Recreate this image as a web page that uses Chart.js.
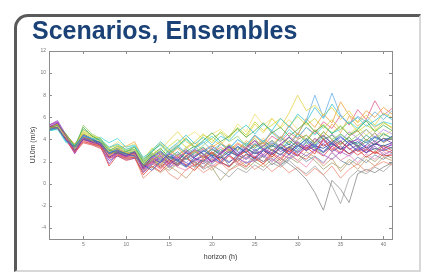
<!DOCTYPE html>
<html>
<head>
<meta charset="utf-8">
<script src="https://cdn.jsdelivr.net/npm/chart.js@4/dist/chart.umd.min.js"></script>
<style>
  body { margin: 0; background: #fff; }
  #wrap { position: relative; width: 423px; height: 274px; overflow: hidden; }
  #frame {
    position: absolute; left: 14px; top: 14px; width: 402px; height: 253px;
    border-left: 3px solid #5a5a5a; border-top: 3px solid #5a5a5a;
    border-right: 2px solid #d8d8d8; border-bottom: 2px solid #d8d8d8;
    border-top-left-radius: 14px;
  }
  #title {
    position: absolute; left: 32px; top: 16px;
    font: bold 25px "Liberation Sans", Arial, sans-serif; color: #1b4277;
  }
  canvas { position: absolute; left: 0; top: 0; }
</style>
</head>
<body>
<div id="wrap">
  <canvas id="ens" width="423" height="274"></canvas>
  <div id="frame"></div>
  <div id="title">Scenarios, Ensembles</div>
</div>
<script>
// forecast horizon (hours) and ensemble members (U10m, m/s)
var hours = [];
for (var h = 1; h <= 41; h++) hours.push(h);

var xTicks = [5, 10, 15, 20, 25, 30, 35, 40];
var yTicks = [-4, -2, 0, 2, 4, 6, 8, 10, 12];

var members = [
  [5.1,5.5,4.3,3.0,4.0,3.8,3.5,2.4,2.8,2.5,2.9,1.4,2.4,2.9,2.2,1.6,2.5,3.1,2.7,2.0,2.8,3.4,2.6,3.3,3.9,3.1,2.7,3.6,4.2,3.5,3.0,3.8,4.4,3.6,3.1,3.9,3.4,2.8,3.6,4.1,3.7],
  [4.9,5.1,3.9,3.3,4.4,4.0,3.7,2.8,3.0,2.7,2.5,1.7,1.2,2.0,2.7,2.1,1.5,2.4,3.0,2.5,1.9,2.7,3.3,2.8,2.2,3.0,3.7,3.2,2.6,3.4,4.0,3.3,2.9,3.7,4.3,3.6,3.0,3.5,4.2,3.8,4.3],
  [5.0,5.3,4.5,3.4,5.1,4.3,3.9,3.1,2.7,2.9,3.3,2.0,2.9,3.6,2.8,3.4,4.1,3.3,3.9,4.6,3.8,4.3,5.0,4.2,4.8,5.5,4.6,5.1,4.3,4.9,5.6,4.7,5.3,4.5,5.2,4.4,4.9,5.7,4.7,5.3,4.8],
  [5.2,5.0,4.0,2.9,3.8,3.6,3.4,1.6,2.6,2.3,2.4,0.8,1.6,1.1,1.9,2.5,1.7,1.2,2.1,2.8,2.0,1.5,2.4,3.0,2.3,1.8,2.7,2.1,3.1,2.5,3.3,2.7,4.1,3.0,3.8,3.2,2.6,3.1,2.8,3.4,3.0],
  [4.8,5.0,3.8,3.5,4.3,4.1,4.0,3.3,3.6,3.1,3.4,2.2,3.0,3.8,3.1,3.7,4.4,3.6,4.2,3.5,4.3,3.9,4.7,5.3,4.5,5.4,4.8,5.9,5.1,6.3,5.6,6.9,5.9,7.2,6.1,5.4,6.0,5.2,5.7,6.3,5.8],
  [5.0,5.2,4.2,3.2,4.6,4.2,3.8,2.9,3.3,2.8,3.0,1.8,2.6,3.1,3.9,4.7,3.8,3.3,4.4,4.0,3.5,4.3,4.9,4.2,5.4,4.6,5.9,5.1,6.4,8.0,6.6,7.1,6.2,6.9,5.8,6.6,5.5,6.2,5.3,6.4,6.0],
  [5.1,5.4,4.4,3.6,4.5,3.9,3.3,2.5,3.1,2.8,2.6,1.6,2.3,1.7,2.6,3.2,2.5,3.0,2.4,3.3,3.8,3.0,3.7,3.2,4.3,3.6,4.7,4.0,5.3,4.4,5.9,5.1,6.3,5.5,7.4,6.2,5.6,6.6,6.0,6.9,6.3],
  [5.3,5.6,4.1,2.7,4.1,3.7,3.6,2.3,2.7,2.4,2.8,1.3,2.0,2.6,1.7,2.3,2.9,2.2,2.6,1.9,2.7,3.3,2.5,3.1,2.4,3.2,2.8,3.6,2.9,2.5,3.5,3.0,3.9,3.2,2.7,3.7,4.0,3.3,3.9,3.1,3.6],
  [4.9,5.2,4.0,3.2,4.1,3.8,3.5,2.7,2.9,2.6,2.5,1.5,2.2,1.6,2.4,1.8,2.6,2.0,1.5,2.3,2.7,1.6,2.2,2.6,2.0,2.5,1.7,2.3,1.8,1.2,0.4,-0.8,-2.4,0.3,-0.5,-1.7,0.9,1.3,1.0,1.5,1.9],
  [5.0,5.1,4.2,3.0,5.3,4.5,4.1,2.9,3.4,3.0,3.1,1.9,2.8,2.2,3.1,2.5,3.3,2.7,3.5,4.1,4.6,3.8,4.3,3.4,4.1,3.2,3.9,3.3,4.2,3.5,4.4,3.6,4.7,4.0,4.5,3.8,4.4,4.9,4.1,4.6,4.1],
  [5.2,5.3,3.9,3.1,3.9,3.7,3.4,2.6,2.7,2.4,2.6,1.4,1.9,1.3,2.0,1.5,1.2,1.9,2.3,1.6,2.1,2.5,1.7,2.4,2.0,2.8,2.2,1.8,2.6,2.1,1.5,2.4,1.8,2.9,2.1,2.6,1.9,2.7,2.2,2.9,2.5],
  [4.8,5.0,4.1,3.4,4.0,3.9,3.8,3.0,3.2,2.8,2.9,1.7,2.5,3.0,2.3,2.9,2.2,2.8,3.3,2.5,3.1,2.6,3.4,2.8,3.6,3.0,3.5,3.1,3.9,3.3,4.1,3.5,4.3,3.7,4.5,3.9,3.6,4.4,3.8,4.5,4.1],
  [5.0,5.4,4.3,3.3,4.2,4.0,3.7,2.6,3.0,2.7,2.8,1.6,2.1,2.7,2.0,1.7,2.5,2.9,2.3,2.8,2.4,3.1,2.6,2.9,3.4,3.7,3.0,3.6,3.1,4.0,4.4,3.7,4.7,4.0,3.5,4.3,4.8,3.9,4.6,3.7,4.2],
  [5.1,5.5,4.0,2.8,4.3,3.8,3.5,1.8,2.8,2.5,2.7,1.3,1.8,2.3,1.5,2.0,1.7,2.2,1.8,2.4,1.9,1.6,2.3,1.9,2.1,2.6,2.0,2.7,2.3,3.0,2.5,3.1,2.6,2.2,2.9,2.5,3.2,2.8,3.4,2.6,3.0],
  [4.9,5.2,4.2,3.3,4.4,4.1,3.6,2.8,3.1,2.6,3.0,1.8,2.7,2.2,2.9,3.5,2.7,3.2,3.8,3.0,3.6,3.2,4.0,3.4,4.4,3.7,4.8,4.1,5.2,4.5,5.7,8.0,6.0,8.2,6.2,5.4,6.1,5.6,6.5,5.8,6.6],
  [5.0,5.3,4.1,3.1,4.1,3.9,3.6,2.7,2.9,2.6,2.7,1.5,2.3,1.9,2.5,2.1,2.8,2.3,2.0,2.6,2.3,2.9,2.5,3.2,2.7,3.0,2.6,3.3,2.9,3.5,3.0,3.4,3.2,3.7,3.1,3.5,3.8,3.2,3.6,3.4,3.7],
  [5.0,5.2,4.4,3.5,4.7,4.3,4.1,3.2,3.5,3.1,3.3,2.1,3.2,2.6,3.4,4.0,3.3,3.8,4.5,3.7,4.7,4.1,5.1,4.4,5.6,4.8,5.3,5.9,5.2,6.1,5.3,5.9,5.0,5.8,4.9,5.6,4.7,5.3,4.8,5.5,5.1],
  [5.1,5.0,3.9,2.9,3.9,3.6,3.3,2.3,2.6,2.2,2.4,0.5,1.2,1.9,0.9,0.4,1.3,1.7,1.0,1.5,1.9,1.2,1.6,2.0,1.3,1.8,1.1,1.7,1.0,1.5,0.7,1.4,0.8,1.6,0.5,1.3,1.8,1.1,1.6,2.0,1.7],
  [5.0,5.1,4.0,3.0,4.0,3.7,3.4,2.5,2.7,2.3,2.5,1.2,1.7,2.2,1.4,1.9,1.5,2.0,1.3,1.7,1.2,0.6,1.4,1.0,1.7,1.2,1.9,1.5,2.1,1.4,0.9,1.6,0.8,-0.2,-1.8,0.5,1.2,0.9,1.5,1.1,1.8],
  [5.2,5.6,4.2,3.1,4.2,3.9,3.6,2.6,2.9,2.5,2.8,1.5,2.4,1.9,2.8,2.3,1.9,2.6,3.1,2.4,2.9,2.5,3.4,2.8,3.7,3.1,3.9,3.4,4.3,3.7,3.3,4.1,3.6,4.5,3.8,4.7,4.1,4.9,4.2,4.9,4.5],
  [4.8,4.9,3.7,3.6,4.2,3.8,4.2,3.7,4.1,3.3,3.5,2.4,2.9,3.5,2.7,3.3,4.0,3.2,3.7,4.3,3.6,3.1,4.0,3.5,4.4,3.8,4.6,3.9,4.9,4.2,5.1,4.4,5.2,4.6,4.9,5.6,5.0,5.8,5.2,5.6,5.4],
  [5.0,5.2,4.1,3.2,4.3,3.9,3.5,2.9,3.2,3.4,3.8,2.2,2.8,2.3,3.0,2.5,3.2,3.7,3.0,3.5,2.9,3.6,3.1,3.9,3.4,4.1,3.5,4.3,3.7,4.6,4.0,4.9,4.2,5.4,4.6,6.1,5.2,5.8,5.1,5.6,5.0],
  [5.1,5.3,4.0,3.0,4.0,3.7,3.4,2.4,2.8,2.4,2.6,1.4,2.0,1.5,2.2,1.8,2.5,1.6,2.3,2.9,2.1,2.6,2.0,2.7,2.3,3.0,2.4,3.3,2.7,3.7,3.1,4.1,3.4,3.9,3.2,2.7,3.1,2.4,2.9,2.5,2.6],
  [4.9,5.1,4.2,3.3,4.5,4.1,3.7,2.8,3.1,2.7,2.8,1.6,2.6,3.2,2.4,2.0,2.9,3.4,2.6,3.1,2.7,3.5,3.0,3.7,3.2,3.9,3.3,4.2,3.5,4.5,3.8,4.8,4.0,4.4,3.6,4.2,3.4,4.0,3.5,4.1,4.0],
  [5.0,5.2,4.3,3.4,4.8,4.4,4.0,3.2,3.8,3.3,3.6,2.3,3.1,3.7,3.0,3.6,4.2,4.7,4.0,4.5,4.9,4.2,5.4,4.7,6.3,5.3,5.9,5.0,5.8,4.9,5.5,4.7,5.4,4.6,5.3,4.5,5.1,4.4,5.0,4.3,4.8],
  [5.1,5.4,4.1,3.0,4.1,3.8,3.5,2.6,2.8,2.5,2.7,1.4,1.9,2.4,1.8,2.2,1.6,2.1,2.5,2.0,2.4,1.9,2.6,2.2,2.9,2.4,3.1,2.6,3.3,2.8,3.5,3.0,3.6,2.9,3.4,2.7,3.3,2.8,3.2,3.0,3.3],
  [5.0,5.2,4.0,3.1,4.0,3.8,3.5,2.6,2.8,2.4,2.6,1.3,1.5,1.0,1.6,1.1,0.5,1.4,1.9,1.2,2.0,1.5,2.2,1.6,2.3,1.8,2.5,1.9,2.7,2.1,2.9,2.4,1.6,2.3,1.1,2.0,1.3,2.2,1.6,2.4,2.1],
  [5.2,5.3,4.2,3.2,4.2,3.9,3.6,2.7,3.0,2.6,2.8,1.6,2.5,2.0,2.8,2.3,3.0,2.5,3.2,2.7,3.3,2.8,3.6,3.1,3.9,3.4,4.3,3.8,4.6,4.1,5.1,4.5,5.6,5.0,6.2,5.3,6.7,5.8,7.5,6.2,6.8],
  [4.9,5.0,3.9,3.2,4.0,3.8,3.6,2.7,3.0,2.7,2.6,1.7,1.4,2.1,1.6,2.4,1.9,1.5,2.2,1.8,2.5,2.0,2.4,1.8,2.5,2.0,2.3,1.7,2.2,2.7,2.0,2.5,1.9,2.8,2.1,1.7,2.4,1.9,2.6,2.2,2.8],
  [5.0,5.3,4.1,3.1,4.1,3.8,3.5,2.5,2.8,2.5,2.6,1.4,2.1,1.7,1.2,1.8,2.3,1.7,2.1,1.5,0.3,1.2,1.8,1.3,2.0,1.5,2.2,1.7,2.4,1.9,2.6,2.1,1.3,1.9,1.4,2.2,1.7,2.5,2.0,2.7,2.3],
  [5.3,5.7,4.4,2.9,4.0,3.6,3.3,2.1,2.5,2.2,2.3,1.0,1.7,2.5,1.9,2.7,2.2,3.0,2.4,3.2,2.6,3.4,2.9,2.3,3.1,2.6,3.5,2.9,3.3,3.8,3.2,3.6,2.8,3.4,3.9,3.1,3.5,3.0,3.7,3.2,3.5],
  [5.0,5.4,4.0,3.1,4.3,3.9,3.7,2.9,3.1,2.6,2.9,1.6,2.3,2.8,2.2,2.6,3.1,2.5,2.9,3.4,2.8,3.3,2.7,3.5,3.0,3.4,3.9,3.2,3.6,3.1,3.8,3.4,4.0,3.5,4.2,3.6,4.1,3.7,4.3,3.9,4.2],
  [4.9,5.0,4.1,3.4,4.9,4.4,3.8,3.0,3.4,2.9,3.1,1.9,2.7,2.1,2.6,3.3,2.8,2.4,3.0,2.6,3.6,3.0,2.5,3.2,2.8,3.5,3.0,2.6,3.4,2.9,3.7,3.2,2.8,3.6,3.1,3.9,3.3,3.8,3.0,3.5,3.2],
  [5.1,5.2,3.9,2.8,3.7,3.5,3.2,2.3,2.5,2.1,2.3,1.1,1.8,1.4,2.1,1.6,2.3,1.9,1.4,2.2,1.8,2.5,1.9,1.5,2.4,2.0,2.8,2.3,3.2,2.6,2.2,3.0,2.5,3.4,2.8,3.6,2.9,3.3,2.7,3.1,2.8]
];

var lineColors = [
  '#7b3fa0','#3a5fcd','#4caf50','#e0483e','#3fc4d8','#e6d34a','#f0a040','#c040b0','#8a8a8a','#9ed36a',
  '#f08cb8','#2a9d8f','#a08a40','#9a5cd0','#6ab0e8','#2c3e9e','#c8d83a','#f0907a','#a0a0a0','#b48ce0',
  '#48d8e0','#f5b04c','#d03030','#3c9a50','#f0e070','#5040a0','#c8a070','#e06090','#7090b0','#a0a070',
  '#8040c0','#4070e0','#60b060','#e05050'
];

var datasets = [];
for (var i = 0; i < members.length; i++) {
  datasets.push({
    data: members[i].map(function (v, j) { return { x: hours[j], y: v }; }),
    borderColor: lineColors[i % lineColors.length] + 'cc',
    borderWidth: 1,
    pointRadius: 0,
    tension: 0
  });
}

// matlab style box with inward ticks
var boxPlugin = {
  id: 'box',
  afterDraw: function (chart) {
    var ctx = chart.ctx, a = chart.chartArea;
    var xs = chart.scales.x, ys = chart.scales.y;
    ctx.save();
    ctx.strokeStyle = '#8c8c8c';
    ctx.lineWidth = 1;
    ctx.strokeRect(a.left + 0.5, a.top + 0.5, a.right - a.left, a.bottom - a.top);
    ctx.beginPath();
    xTicks.forEach(function (t) {
      var px = Math.round(xs.getPixelForValue(t)) + 0.5;
      ctx.moveTo(px, a.bottom); ctx.lineTo(px, a.bottom - 3);
      ctx.moveTo(px, a.top); ctx.lineTo(px, a.top + 3);
    });
    yTicks.forEach(function (t) {
      var py = Math.round(ys.getPixelForValue(t)) + 0.5;
      ctx.moveTo(a.left, py); ctx.lineTo(a.left + 3, py);
      ctx.moveTo(a.right, py); ctx.lineTo(a.right - 3, py);
    });
    ctx.stroke();
    ctx.restore();
  }
};

new Chart(document.getElementById('ens'), {
  type: 'line',
  data: { datasets: datasets },
  plugins: [boxPlugin],
  options: {
    responsive: false,
    animation: false,
    events: [],
    layout: { padding: { left: 29, top: 51, right: 31, bottom: 13 } },
    plugins: { legend: { display: false }, tooltip: { enabled: false } },
    scales: {
      x: {
        type: 'linear', min: 1, max: 41,
        afterBuildTicks: function (s) { s.ticks = xTicks.map(function (v) { return { value: v }; }); },
        afterFit: function (s) { s.height = 22; },
        grid: { display: false, drawTicks: false },
        border: { display: false },
        ticks: { font: { size: 5, family: 'Liberation Sans' }, color: '#777', padding: 3, maxRotation: 0 },
        title: { display: true, text: 'horizon (h)', font: { size: 7, family: 'Liberation Sans' }, color: '#333', padding: { top: 2, bottom: 0 } }
      },
      y: {
        min: -5, max: 12,
        afterBuildTicks: function (s) { s.ticks = yTicks.map(function (v) { return { value: v }; }); },
        afterFit: function (s) { s.width = 20; },
        grid: { display: false, drawTicks: false },
        border: { display: false },
        ticks: { font: { size: 5, family: 'Liberation Sans' }, color: '#777', padding: 3 },
        title: { display: true, text: 'U10m (m/s)', font: { size: 7, family: 'Liberation Sans' }, color: '#333', padding: { top: 0, bottom: 0 } }
      }
    }
  }
});
</script>
</body>
</html>
